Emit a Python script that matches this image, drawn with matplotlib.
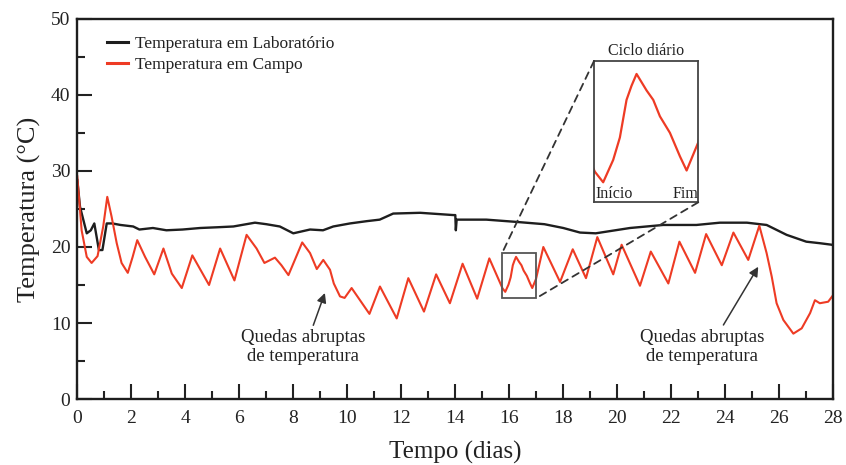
import matplotlib
matplotlib.use("Agg")
import matplotlib.pyplot as plt
from matplotlib.patches import Rectangle, ConnectionPatch

plt.rcParams['font.family'] = ['Liberation Serif', 'DejaVu Serif']

# ---------------- data ----------------
field_days = [0.0, 0.16, 0.35, 0.53, 0.75, 0.96, 1.11, 1.27, 1.46, 1.64, 1.87, 2.05, 2.22,
              2.51, 2.85, 3.19, 3.5, 3.87, 4.26, 4.88, 5.29, 5.82, 6.27, 6.64, 6.93, 7.32,
              7.56, 7.82, 8.33, 8.62, 8.87, 9.11, 9.36, 9.5, 9.73, 9.9, 10.16, 10.82, 11.21,
              11.83, 12.26, 12.84, 13.29, 13.8, 14.27, 14.81, 15.26, 15.75, 15.85, 15.97,
              16.05, 16.13, 16.19, 16.25, 16.37, 16.45, 16.53, 16.65, 16.77, 16.85, 16.99,
              17.26, 17.88, 18.35, 18.84, 19.26, 19.85, 20.16, 20.84, 21.24, 21.89, 22.3,
              22.88, 23.29, 23.87, 24.3, 24.85, 25.26, 25.53, 25.72, 25.9, 26.15, 26.52,
              26.83, 27.14, 27.32, 27.5, 27.81, 28.0]
field_temps = [29.3, 22.2, 18.7, 17.9, 18.8, 22.7, 26.6, 24.0, 20.5, 17.9, 16.6, 18.7, 20.9,
               18.7, 16.4, 19.8, 16.5, 14.6, 18.9, 15.0, 19.8, 15.6, 21.6, 19.8, 17.9, 18.6,
               17.6, 16.3, 20.6, 19.2, 17.1, 18.3, 17.0, 15.2, 13.5, 13.3, 14.6, 11.2, 14.8,
               10.6, 15.9, 11.5, 16.4, 12.6, 17.8, 13.2, 18.5, 14.55, 14.1, 15.05,
               16.0, 17.6, 18.2, 18.7, 18.0, 17.6, 16.9, 16.2, 15.2, 14.6, 15.8,
               20.0, 15.4, 19.7, 15.9, 21.3, 16.4, 20.3, 14.9, 19.4, 15.2, 20.7,
               16.6, 21.7, 17.6, 21.9, 18.3, 22.8, 19.2, 16.1, 12.6, 10.4, 8.6,
               9.3, 11.3, 13.0, 12.6, 12.8, 13.7]

lab_days = [0.0, 0.1, 0.35, 0.5, 0.63, 0.8, 0.93, 1.09, 1.3, 1.6, 2.07, 2.3, 2.8, 3.3, 3.9,
            4.55, 5.2, 5.78, 6.58, 7.0, 7.5, 8.0, 8.62, 9.1, 9.48, 10.1, 10.72, 11.2, 11.7,
            12.7, 13.93, 14.0, 14.02, 14.05, 15.15, 16.27, 17.3, 18.0, 18.62, 19.2, 20.47,
            21.7, 22.93, 23.8, 24.8, 25.53, 26.27, 27.0, 27.5, 27.94, 28.0]
lab_temps = [28.8, 25.3, 21.8, 22.2, 23.1, 19.6, 19.6, 23.1, 23.1, 22.9, 22.7, 22.3, 22.5,
             22.2, 22.3, 22.5, 22.6, 22.7, 23.2, 23.0, 22.7, 21.8, 22.3, 22.2, 22.7, 23.1,
             23.4, 23.6, 24.4, 24.5, 24.2, 24.2, 22.2, 23.6, 23.6, 23.3, 23.0, 22.5, 21.9,
             21.8, 22.5, 22.9, 22.9, 23.2, 23.2, 22.9, 21.6, 20.7, 20.5, 20.3, 20.2]

x_ticks = [0, 2, 4, 6, 8, 10, 12, 14, 16, 18, 20, 22, 24, 26, 28]
y_ticks = [0, 10, 20, 30, 40, 50]

RED = '#ee3b24'
BLACK = '#1e1e1e'

fig = plt.figure(figsize=(8.46, 4.65), dpi=100)
ax = fig.add_axes([77.3 / 846, 1 - 399 / 465, 756 / 846, 380 / 465])

ax.plot(lab_days, lab_temps, color=BLACK, lw=1.7, label='Temperatura em Laboratório')
ax.plot(field_days, field_temps, color=RED, lw=1.5, label='Temperatura em Campo')

ax.set_xlim(0, 28)
ax.set_ylim(0, 50)
ax.set_xticks(x_ticks)
ax.set_xticks(range(0, 29), minor=True)
ax.set_yticks(y_ticks)
ax.set_yticks(range(0, 51, 5), minor=True)
ax.tick_params(axis='both', which='both', direction='in', width=1.5, top=False, right=False,
               labelsize=14, colors='#222222')
ax.tick_params(axis='both', which='major', length=11)
ax.tick_params(axis='both', which='minor', length=5.5)
ax.tick_params(axis='x', pad=8)
ax.tick_params(axis='y', pad=5)
for s in ax.spines.values():
    s.set_linewidth(1.7)
    s.set_color('#1e1e1e')

ax.set_xlabel('Tempo (dias)', fontsize=18, labelpad=10, color='#222222')
ax.set_ylabel('Temperatura (°C)', fontsize=19, labelpad=7, color='#222222')

leg = ax.legend(loc='upper left', bbox_to_anchor=(0.039, 0.955), frameon=False,
                fontsize=12.5, handlelength=1.2, handletextpad=0.4, labelspacing=0.25,
                borderpad=0, borderaxespad=0)
for h in leg.get_lines():
    h.set_linewidth(2.2)
for t in leg.get_texts():
    t.set_color('#222222')

# annotations
ax.text(8.37, 6.84, 'Quedas abruptas\nde temperatura', ha='center', va='center',
        fontsize=13.5, linespacing=1.1, color='#222222')
ax.annotate('', xy=(9.17, 13.95), xytext=(8.74, 9.7),
            arrowprops=dict(arrowstyle='-|>', color='#333333', lw=1.1,
                            mutation_scale=14, shrinkA=0, shrinkB=0))
ax.text(23.13, 6.84, 'Quedas abruptas\nde temperatura', ha='center', va='center',
        fontsize=13.5, linespacing=1.1, color='#222222')
ax.annotate('', xy=(25.22, 17.4), xytext=(23.93, 9.74),
            arrowprops=dict(arrowstyle='-|>', color='#333333', lw=1.1,
                            mutation_scale=14, shrinkA=0, shrinkB=0))

# zoom box
zx0, zx1, zy0, zy1 = 15.74, 16.99, 13.25, 19.25
ax.add_patch(Rectangle((zx0, zy0), zx1 - zx0, zy1 - zy0, fill=False,
                       edgecolor='#555555', lw=1.3, zorder=3))

# inset
ins = fig.add_axes([594 / 846, 1 - 202.3 / 465, 104.3 / 846, 141.3 / 465])
ins.plot(field_days, field_temps, color=RED, lw=1.6)
ins.set_xlim(zx0, zx1)
ins.set_ylim(zy0, zy1)
ins.set_xticks([])
ins.set_yticks([])
for s in ins.spines.values():
    s.set_linewidth(1.3)
    s.set_color('#444444')
ins.set_title('Ciclo diário', fontsize=11.5, pad=4, color='#222222')
ins.text(0.01, 0.0, 'Início', transform=ins.transAxes, ha='left', va='bottom',
         fontsize=11.5, color='#222222')
ins.text(1.0, 0.0, 'Fim', transform=ins.transAxes, ha='right', va='bottom',
         fontsize=11.5, color='#222222')

for a_pt, b_pt in [((0, 1), (zx0, zy1)), ((1, 0), (zx1, zy0))]:
    cp = ConnectionPatch(xyA=a_pt, coordsA=ins.transAxes, xyB=b_pt, coordsB=ax.transData,
                         linestyle=(0, (4, 3)), color='#333333', lw=1.3)
    fig.add_artist(cp)

fig.savefig('out.png', dpi=100)
